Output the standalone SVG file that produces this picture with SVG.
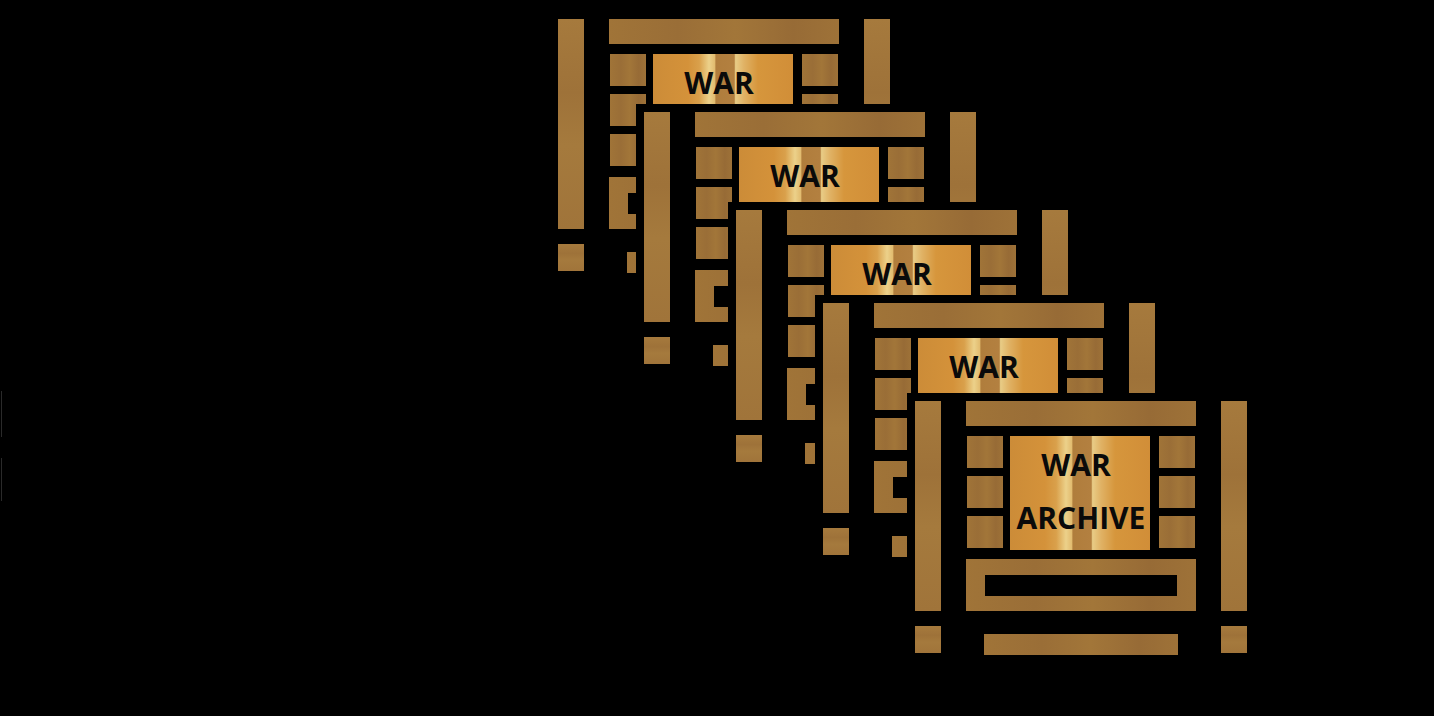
<svg xmlns="http://www.w3.org/2000/svg" xmlns:xlink="http://www.w3.org/1999/xlink" width="1434" height="716" viewBox="0 0 1434 716">
  <style>
    .wood { fill: url(#woodH); }
    .post { fill: url(#woodV); }
    .panel { fill: url(#panelGrad); }
    .hole { fill: #000000; }
    .bg { fill: #000000; }
    .label { font-family: "Open Sans", "Liberation Sans", sans-serif; font-weight: 700; font-size: 30px; fill: #0a0a0a; text-anchor: middle; }
    .edge { fill: #2a2a2a; }
  </style>
  <defs>
    <linearGradient id="woodH" x1="0" y1="0" x2="1" y2="0">
      <stop offset="0" stop-color="#a07438"/>
      <stop offset="0.3" stop-color="#9a6e37"/>
      <stop offset="0.55" stop-color="#a27639"/>
      <stop offset="0.8" stop-color="#976b36"/>
      <stop offset="1" stop-color="#9e7238"/>
    </linearGradient>
    <linearGradient id="woodV" x1="0" y1="0" x2="0" y2="1">
      <stop offset="0" stop-color="#a67a3d"/>
      <stop offset="0.35" stop-color="#9e7239"/>
      <stop offset="0.6" stop-color="#a57a3d"/>
      <stop offset="1" stop-color="#a0743a"/>
    </linearGradient>
    <linearGradient id="panelGrad" x1="0" y1="0" x2="1" y2="0">
      <stop offset="0" stop-color="#cc8c38"/>
      <stop offset="0.25" stop-color="#d4923a"/>
      <stop offset="0.33" stop-color="#d9a04b"/>
      <stop offset="0.4" stop-color="#ecd18a"/>
      <stop offset="0.44" stop-color="#e2bc70"/>
      <stop offset="0.45" stop-color="#b07d3c"/>
      <stop offset="0.58" stop-color="#b38040"/>
      <stop offset="0.59" stop-color="#e8cc86"/>
      <stop offset="0.65" stop-color="#e0b265"/>
      <stop offset="0.75" stop-color="#d6963c"/>
      <stop offset="1" stop-color="#d18e38"/>
    </linearGradient>
    <g id="crateBody">
      <rect class="bg" x="-8" y="-8" width="348" height="270"/>
      <rect class="post" x="0" y="0" width="26" height="210"/>
      <rect class="post" x="306" y="0" width="26" height="210"/>
      <rect class="wood" x="51" y="0" width="230" height="25"/>
      <rect class="wood" x="52" y="35" width="36" height="32"/>
      <rect class="wood" x="52" y="75" width="36" height="32"/>
      <rect class="wood" x="52" y="115" width="36" height="32"/>
      <rect class="panel" x="95" y="35" width="140" height="114"/>
      <rect class="wood" x="244" y="35" width="36" height="32"/>
      <rect class="wood" x="244" y="75" width="36" height="32"/>
      <rect class="wood" x="244" y="115" width="36" height="32"/>
      <rect class="wood" x="51" y="158" width="230" height="52"/>
      <rect class="hole" x="70" y="174" width="192" height="21"/>
      <rect class="post" x="0" y="225" width="26" height="27"/>
      <rect class="post" x="306" y="225" width="26" height="27"/>
      <rect class="wood" x="69" y="233" width="194" height="21"/>
    </g>
  </defs>
  <rect x="0" y="0" width="1434" height="716" fill="#000000"/>
  <g id="edge-marks">
    <rect class="edge" x="1" y="391" width="1" height="46"/>
    <rect class="edge" x="1" y="458" width="1" height="43"/>
  </g>
  <g id="connectors"></g>
  <g id="crate-1" transform="translate(558,19)">
    <use xlink:href="#crateBody" href="#crateBody"/>
    <text class="label" x="161" y="75">WAR</text>
  </g>
  <g id="crate-2" transform="translate(644,112)">
    <use xlink:href="#crateBody" href="#crateBody"/>
    <text class="label" x="161" y="75">WAR</text>
  </g>
  <g id="crate-3" transform="translate(736,210)">
    <use xlink:href="#crateBody" href="#crateBody"/>
    <text class="label" x="161" y="75">WAR</text>
  </g>
  <g id="crate-4" transform="translate(823,303)">
    <use xlink:href="#crateBody" href="#crateBody"/>
    <text class="label" x="161" y="75">WAR</text>
  </g>
  <g id="crate-5" transform="translate(915,401)">
    <use xlink:href="#crateBody" href="#crateBody"/>
    <text class="label" x="161" y="75">WAR</text>
    <text class="label" x="166" y="128">ARCHIVE</text>
  </g>
</svg>
